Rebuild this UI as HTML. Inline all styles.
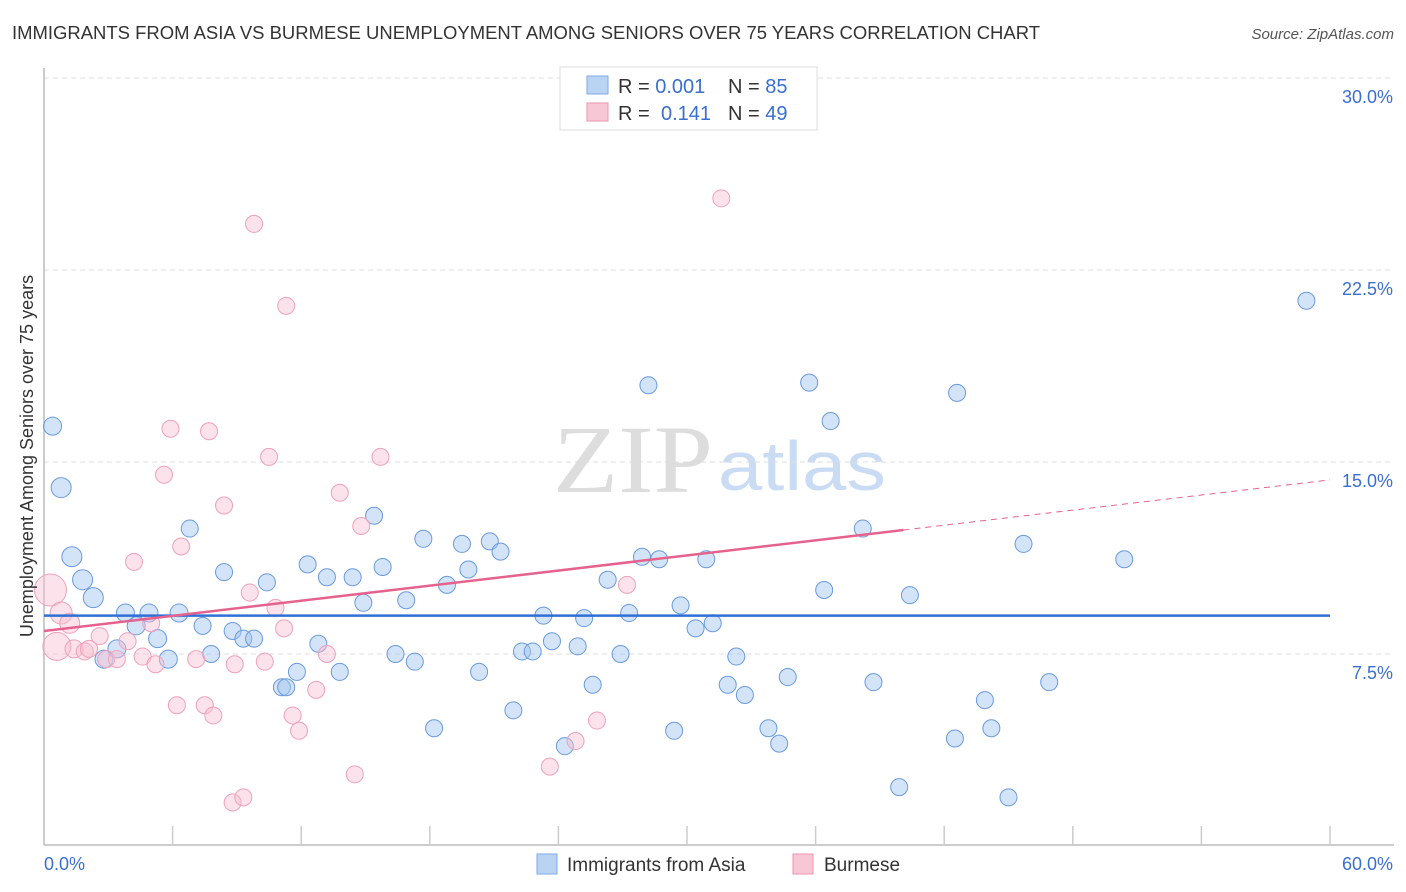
<!DOCTYPE html>
<html><head><meta charset="utf-8"><style>
body{margin:0;background:#fff;font-family:"Liberation Sans",sans-serif;}
svg{display:block}
</style></head><body>
<svg id="chart" width="1406" height="892" xmlns="http://www.w3.org/2000/svg">
<text x="12" y="39" font-size="18" fill="#333" textLength="1028" lengthAdjust="spacingAndGlyphs">IMMIGRANTS FROM ASIA VS BURMESE UNEMPLOYMENT AMONG SENIORS OVER 75 YEARS CORRELATION CHART</text>
<text x="1394" y="39" font-size="15" fill="#555" font-style="italic" text-anchor="end">Source: ZipAtlas.com</text>
<g>
<text x="553" y="492" font-size="96" font-family="Liberation Serif,serif" fill="#ddd" textLength="160" lengthAdjust="spacingAndGlyphs">ZIP</text>
<text x="718" y="490" font-size="70" fill="#c9dcf3" textLength="168" lengthAdjust="spacingAndGlyphs">atlas</text>
</g>
<g id="grid"></g>
<g id="axes"></g>
<g id="marks"></g>
<g id="lines"></g>
<text transform="translate(33,456) rotate(-90)" font-size="18" fill="#333" text-anchor="middle">Unemployment Among Seniors over 75 years</text>
<g>
<rect x="560" y="67" width="257" height="63" fill="#fff" stroke="#ddd"/>
<rect x="587" y="76" width="21" height="18" fill="#b9d3f3" stroke="#7eaae6"/>
<rect x="587" y="103" width="21" height="18" fill="#f8c7d5" stroke="#ee95b0"/>
<text x="618" y="93" font-size="20" fill="#333">R = <tspan fill="#3a6fd0">0.001</tspan><tspan x="728">N = </tspan><tspan fill="#3a6fd0">85</tspan></text>
<text x="618" y="120" font-size="20" fill="#333">R = <tspan x="661" fill="#3a6fd0">0.141</tspan><tspan x="728">N = </tspan><tspan fill="#3a6fd0">49</tspan></text>
</g>
<g>
<rect x="537" y="854" width="20" height="20" fill="#b9d3f3" stroke="#7eaae6"/>
<text x="567" y="871" font-size="19" fill="#333">Immigrants from Asia</text>
<rect x="793" y="854" width="20" height="20" fill="#f8c7d5" stroke="#ee95b0"/>
<text x="824" y="871" font-size="19" fill="#333">Burmese</text>
</g>
</svg>
<script>
const yTicks=[7.5,15.0,22.5,30.0];
const xTickLabels=["0.0%","60.0%"];
const blueX=[0.4,0.8,1.3,1.8,2.3,3.8,4.9,6.3,4.3,5.3,3.4,2.8,5.8,6.8,7.4,7.8,8.4,8.8,9.3,9.8,10.4,11.1,11.3,11.8,12.3,12.8,13.2,13.8,14.4,14.9,15.4,15.8,16.4,16.9,17.3,17.7,18.2,18.8,19.5,19.8,20.3,20.8,21.3,21.9,22.3,22.8,23.3,23.7,24.3,24.9,25.2,25.6,26.3,26.9,27.3,27.9,28.2,28.7,29.4,29.7,30.4,30.9,31.2,31.9,32.3,32.7,33.8,34.3,34.7,35.7,36.4,36.7,38.2,38.7,39.9,40.4,42.5,42.6,43.9,44.2,45.0,45.7,46.9,50.4,58.9];
const blueY=[16.4,14.0,11.3,10.4,9.7,9.1,9.1,9.1,8.6,8.1,7.7,7.3,7.3,12.4,8.6,7.5,10.7,8.4,8.1,8.1,10.3,6.2,6.2,6.8,11.0,7.9,10.5,6.8,10.5,9.5,12.9,10.9,7.5,9.6,7.2,12.0,4.6,10.2,11.8,10.8,6.8,11.9,11.5,5.3,7.6,7.6,9.0,8.0,3.9,7.8,8.9,6.3,10.4,7.5,9.1,11.3,18.0,11.2,4.5,9.4,8.5,11.2,8.7,6.3,7.4,5.9,4.6,4.0,6.6,18.1,10.0,16.6,12.4,6.4,2.3,9.8,4.2,17.7,5.7,4.6,1.9,11.8,6.4,11.2,21.3];
const blueR=[9,10,10,10,10,9,9,9,9,9,9,9,9];
const pinkX=[0.3,0.6,0.8,1.2,1.4,1.9,2.1,2.6,2.9,3.4,3.9,4.2,4.6,5.0,5.2,5.6,5.9,6.2,6.4,7.1,7.5,7.7,7.9,8.4,8.9,8.8,9.3,9.6,9.8,10.3,10.5,10.8,11.2,11.3,11.6,11.9,12.7,13.2,13.8,14.5,14.8,15.7,23.6,24.8,25.8,27.2,31.6];
const pinkY=[10.0,7.8,9.1,8.7,7.7,7.6,7.7,8.2,7.3,7.3,8.0,11.1,7.4,8.7,7.1,14.5,16.3,5.5,11.7,7.3,5.5,16.2,5.1,13.3,7.1,1.7,1.9,9.9,24.3,7.2,15.2,9.3,8.5,21.1,5.1,4.5,6.1,7.5,13.8,2.8,12.5,15.2,3.1,4.1,4.9,10.2,25.3];
const pinkR=[16,14,11,10,9];
const blueTrend=[9.0,9.0];
const pinkTrend=[8.4,14.3];
const pinkSolidEnd=40.1;

const X0=44,X1=1330,Y0=846,PPY=192/7.5;
const sx=v=>X0+(v/60)*(X1-X0);
const sy=v=>Y0-v*PPY;
const NS="http://www.w3.org/2000/svg";
function mk(tag,parent,attrs){const e=document.createElementNS(NS,tag);for(const k in attrs)e.setAttribute(k,attrs[k]);parent.appendChild(e);return e;}
const grid=document.getElementById('grid'),axes=document.getElementById('axes'),marks=document.getElementById('marks'),lines=document.getElementById('lines');
yTicks.forEach(t=>{
 const l=mk('line',grid,{x1:X0,x2:1394,y1:sy(t),y2:sy(t),stroke:'#ddd','stroke-dasharray':'5,4'});
 
 
 const tx=mk('text',axes,{x:1393,y:sy(t)+25,'font-size':18,fill:'#3a6fd0','text-anchor':'end'});
 tx.textContent=t.toFixed(1)+'%';
 
 
});
mk('line',axes,{x1:X0,x2:X0,y1:68,y2:845,stroke:'#bbb','stroke-width':1.5});
mk('line',axes,{x1:X0,x2:1394,y1:845,y2:845,stroke:'#bbb','stroke-width':1.5});
for(let i=1;i<=10;i++){const x=sx(i*6);mk('line',axes,{x1:x,x2:x,y1:826,y2:845,stroke:'#ccc','stroke-width':1.5});}
const xl0=mk('text',axes,{x:44,y:870,'font-size':18,fill:'#3a6fd0'});xl0.textContent=xTickLabels[0];


const xl1=mk('text',axes,{x:1393,y:870,'font-size':18,fill:'#3a6fd0','text-anchor':'end'});xl1.textContent=xTickLabels[1];


blueX.forEach((v,i)=>{
 const c=mk('circle',marks,{cx:sx(v),cy:sy(blueY[i]),r:blueR[i]||8.5,fill:'rgba(160,195,240,0.45)',stroke:'#6a9ade','stroke-width':1});
 
 
});
pinkX.forEach((v,i)=>{
 const c=mk('circle',marks,{cx:sx(v),cy:sy(pinkY[i]),r:pinkR[i]||8.5,fill:'rgba(248,190,208,0.45)',stroke:'#eea2ba','stroke-width':1});
 
 
});
const bl=mk('line',lines,{x1:sx(0),x2:sx(60),y1:sy(blueTrend[0]),y2:sy(blueTrend[1]),stroke:'#2f6fd6','stroke-width':2.5});


const pAt=x=>pinkTrend[0]+(pinkTrend[1]-pinkTrend[0])*x/60;
const pl=mk('line',lines,{x1:sx(0),x2:sx(pinkSolidEnd),y1:sy(pAt(0)),y2:sy(pAt(pinkSolidEnd)),stroke:'#e5628d','stroke-width':2.5});


const pd=mk('line',lines,{x1:sx(pinkSolidEnd),x2:sx(60),y1:sy(pAt(pinkSolidEnd)),y2:sy(pAt(60)),stroke:'#e5628d','stroke-width':1,'stroke-dasharray':'6,5'});


</script>
</body></html>
